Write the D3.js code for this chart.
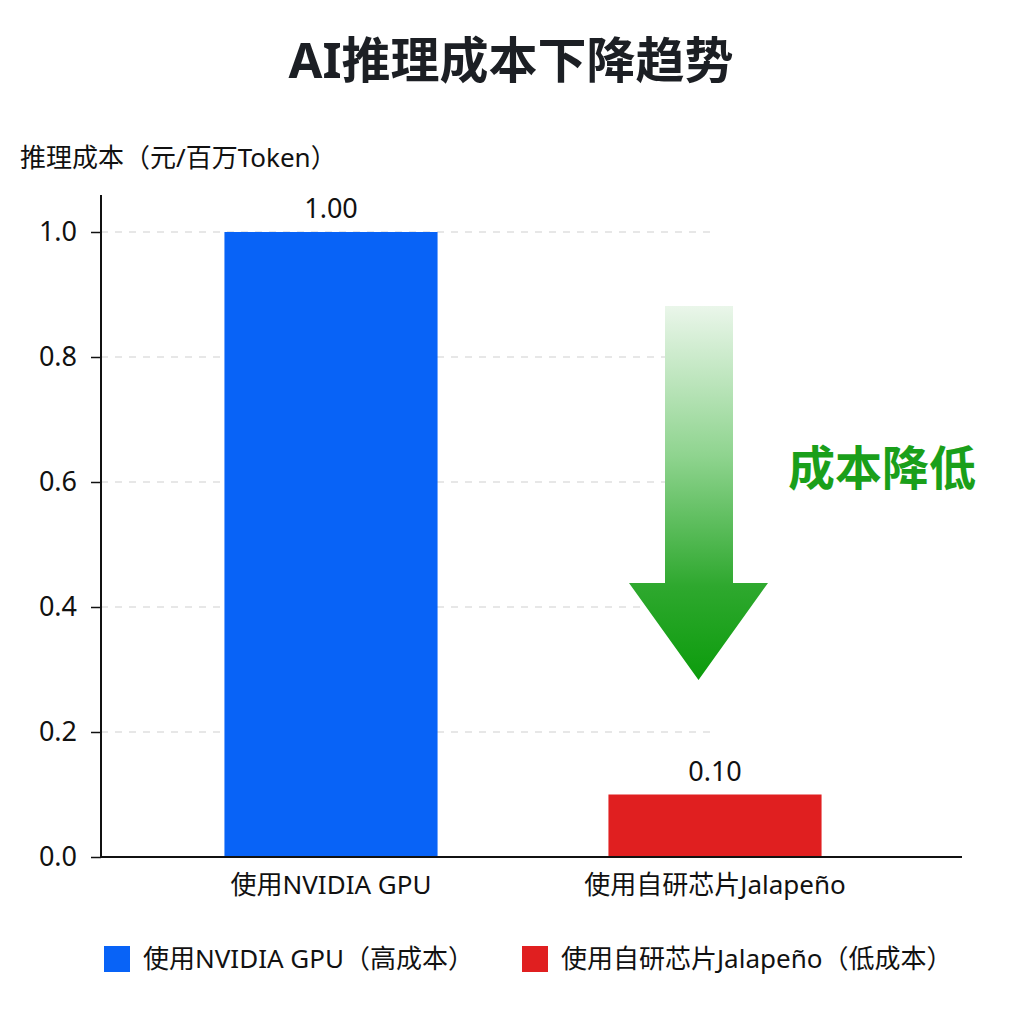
<html>
<head>
  <meta charset="utf-8">
  <script src="https://d3js.org/d3.v7.min.js"></script>
  <style>
    body { margin: 0; background: #fff; }
    text { font-family: "Noto Sans", "Noto Sans CJK SC", sans-serif; }
  </style>
</head>
<body>
<script>
    // data
    var categories = ["使用NVIDIA GPU", "使用自研芯片Jalapeño"];
    var costs = [1.00, 0.10];
    var legendLabels = ["使用NVIDIA GPU（高成本）", "使用自研芯片Jalapeño（低成本）"];
    var yTicks = [0.0, 0.2, 0.4, 0.6, 0.8, 1.0];
    var colors = ["#0863f7", "#e01f20"];

    var width = 1024, height = 1024;

    var svg = d3.select("body").append("svg")
        .attr("width", width)
        .attr("height", height);

    var defs = svg.append("defs");
    var grad = defs.append("linearGradient")
        .attr("id", "arrowGrad")
        .attr("x1", 0).attr("y1", 0).attr("x2", 0).attr("y2", 1);
    grad.append("stop").attr("offset", "0%").attr("stop-color", "#eaf6ea");
    grad.append("stop").attr("offset", "40%").attr("stop-color", "#8fd48f");
    grad.append("stop").attr("offset", "75%").attr("stop-color", "#2ea82e");
    grad.append("stop").attr("offset", "100%").attr("stop-color", "#0c9c0c");

    // title
    svg.append("text")
        .attr("x", 511).attr("y", 78)
        .attr("text-anchor", "middle")
        .style("font-size", "49px")
        .style("font-weight", "bold")
        .attr("fill", "#1c1f24")
        .text("AI推理成本下降趋势");

    svg.append("text")
        .attr("x", 20).attr("y", 167)
        .style("font-size", "26px")
        .attr("fill", "#111")
        .text("推理成本（元/百万Token）");

    var x = d3.scaleBand()
        .domain(categories)
        .range([139, 907])
        .paddingInner(0.445)
        .paddingOuter(0.2225);

    var y = d3.scaleLinear()
        .domain([0, 1])
        .range([857, 232]);

    // grid
    svg.append("g")
        .selectAll("line")
        .data(yTicks.slice(1))
        .enter().append("line")
        .attr("x1", 101).attr("x2", 715)
        .attr("y1", d => y(d)).attr("y2", d => y(d))
        .attr("stroke", "#d0d0d0")
        .attr("stroke-width", 1.2)
        .attr("stroke-dasharray", "7,7");

    // bars
    svg.append("g")
        .selectAll("rect")
        .data(costs)
        .enter().append("rect")
        .attr("x", (d, i) => x(categories[i]))
        .attr("y", d => y(d))
        .attr("width", x.bandwidth())
        .attr("height", d => y(0) - y(d))
        .attr("fill", (d, i) => colors[i]);

    svg.append("g")
        .selectAll("text")
        .data(costs)
        .enter().append("text")
        .attr("x", (d, i) => x(categories[i]) + x.bandwidth() / 2)
        .attr("y", d => y(d) - 14)
        .attr("text-anchor", "middle")
        .style("font-size", "27px")
        .attr("fill", "#111")
        .text(d => d.toFixed(2));

    // y axis
    var yAxis = d3.axisLeft(y)
        .tickValues(yTicks)
        .tickFormat(d3.format(".1f"))
        .tickSize(10)
        .tickPadding(14);
    var gy = svg.append("g")
        .attr("transform", "translate(101,0)")
        .call(yAxis);
    gy.select(".domain").remove();
    gy.append("line")
        .attr("x1", 0).attr("x2", 0)
        .attr("y1", 195).attr("y2", 858)
        .attr("stroke", "#111").attr("stroke-width", 2);
    gy.selectAll(".tick line").attr("stroke", "#111").attr("stroke-width", 1.5);
    gy.selectAll(".tick text")
        .style("font-size", "27px")
        .style("font-family", "'Noto Sans', sans-serif")
        .attr("fill", "#111");

    // x axis
    var xAxis = d3.axisBottom(x).tickSize(0).tickPadding(19);
    var gx = svg.append("g")
        .attr("transform", "translate(0,857)")
        .call(xAxis);
    gx.select(".domain").remove();
    gx.append("line")
        .attr("x1", 100).attr("x2", 962)
        .attr("stroke", "#111").attr("stroke-width", 2);
    gx.selectAll(".tick text")
        .style("font-size", "26px")
        .style("font-family", "'Noto Sans', 'Noto Sans CJK SC', sans-serif")
        .attr("fill", "#111");

    // arrow
    var shaftL = 665, shaftR = 733, headL = 629, headR = 768;
    var arrowTop = 306, headY = 583, tipY = 680;
    svg.append("path")
        .attr("d", "M" + shaftL + "," + arrowTop + "L" + shaftR + "," + arrowTop +
            "L" + shaftR + "," + headY + "L" + headR + "," + headY +
            "L" + ((headL + headR) / 2) + "," + tipY +
            "L" + headL + "," + headY + "L" + shaftL + "," + headY + "Z")
        .attr("fill", "url(#arrowGrad)");

    svg.append("text")
        .attr("x", 882).attr("y", 485)
        .attr("text-anchor", "middle")
        .style("font-size", "47px")
        .style("font-weight", "bold")
        .attr("fill", "#1a9f1a")
        .text("成本降低");

    // legend
    var legendX = [104, 522];
    var legend = svg.append("g");
    legendLabels.forEach(function (t, i) {
        legend.append("rect")
            .attr("x", legendX[i]).attr("y", 946)
            .attr("width", 26).attr("height", 26)
            .attr("fill", colors[i]);
        legend.append("text")
            .attr("x", legendX[i] + 39).attr("y", 968)
            .style("font-size", "26px")
            .attr("fill", "#111")
            .text(t);
    });
</script>
</body>
</html>
